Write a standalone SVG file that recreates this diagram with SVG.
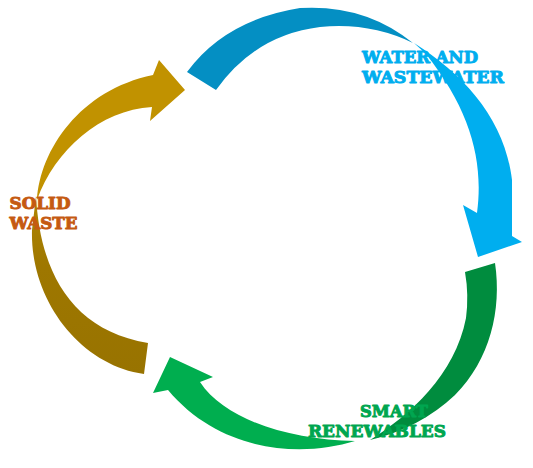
<svg xmlns="http://www.w3.org/2000/svg" width="533" height="468" viewBox="0 0 533 468">
<defs>
<style>
.lbl{font-family:"DejaVu Serif","Liberation Serif",serif;font-weight:bold;font-size:16px;stroke-width:0.9px;stroke-linejoin:round}
.water{fill:#00aeef;stroke:#00aeef}
.solid{fill:#c55a11;stroke:#c55a11}
.smart{fill:#00a650;stroke:#00a650}
</style>
<linearGradient id="brown" x1="0" y1="196" x2="0" y2="374" gradientUnits="userSpaceOnUse">
<stop offset="0" stop-color="#b08600"/>
<stop offset="0.4" stop-color="#9e7700"/>
<stop offset="1" stop-color="#987300"/>
</linearGradient>
</defs>
<rect width="533" height="468" fill="#ffffff"/>
<g id="connectors">
<path id="arrow-water-top" fill="#048fc3" d="M187,72 Q225,20 300,8 Q365,4 413,43 Q370,22 320,27 Q255,35 216,90 Z"/>
<path id="arrow-water-down" fill="#00aeef" d="M414,43 C465,75 505,120 512,180 L512,236 L522,242 L478,257 L463,205 L477,213 C484,160 470,110 426,54 Z"/>
<path id="arrow-smart-right" fill="#008c3e" d="M495,263 C502,310 490,360 455,395 Q420,428 370,440 C410,415 455,375 466,318 Q469,295 465,272 Z"/>
<path id="arrow-smart-bottom" fill="#00ae4f" d="M355,441 C300,458 220,452 168,390 L153,393 L170,357 L213,377 L200,382 C225,420 290,440 355,441 Z"/>
<path id="arrow-solid-lower" fill="url(#brown)" d="M144,374 C80,365 30,300 32,230 L36,196 C40,270 70,330 148,343 Z"/>
<path id="arrow-solid-upper" fill="#c19200" d="M37,200 C40,150 80,90 153,75 L159,60 L185,90 L150,121 L152,107 C100,110 55,150 37,200 Z"/>
</g>
<g id="node-water">
<text class="lbl water" x="362" y="63" textLength="116" lengthAdjust="spacingAndGlyphs">WATER AND</text>
<text class="lbl water" x="362" y="83" textLength="142" lengthAdjust="spacingAndGlyphs">WASTEWATER</text>
</g>
<g id="node-solid">
<text class="lbl solid" x="9.5" y="208.5" textLength="61" lengthAdjust="spacingAndGlyphs">SOLID</text>
<text class="lbl solid" x="9.5" y="228.5" textLength="68" lengthAdjust="spacingAndGlyphs">WASTE</text>
</g>
<g id="node-smart">
<text class="lbl smart" x="360" y="416.5" textLength="68" lengthAdjust="spacingAndGlyphs">SMART</text>
<text class="lbl smart" x="308" y="436.5" textLength="138" lengthAdjust="spacingAndGlyphs">RENEWABLES</text>
</g>
</svg>
